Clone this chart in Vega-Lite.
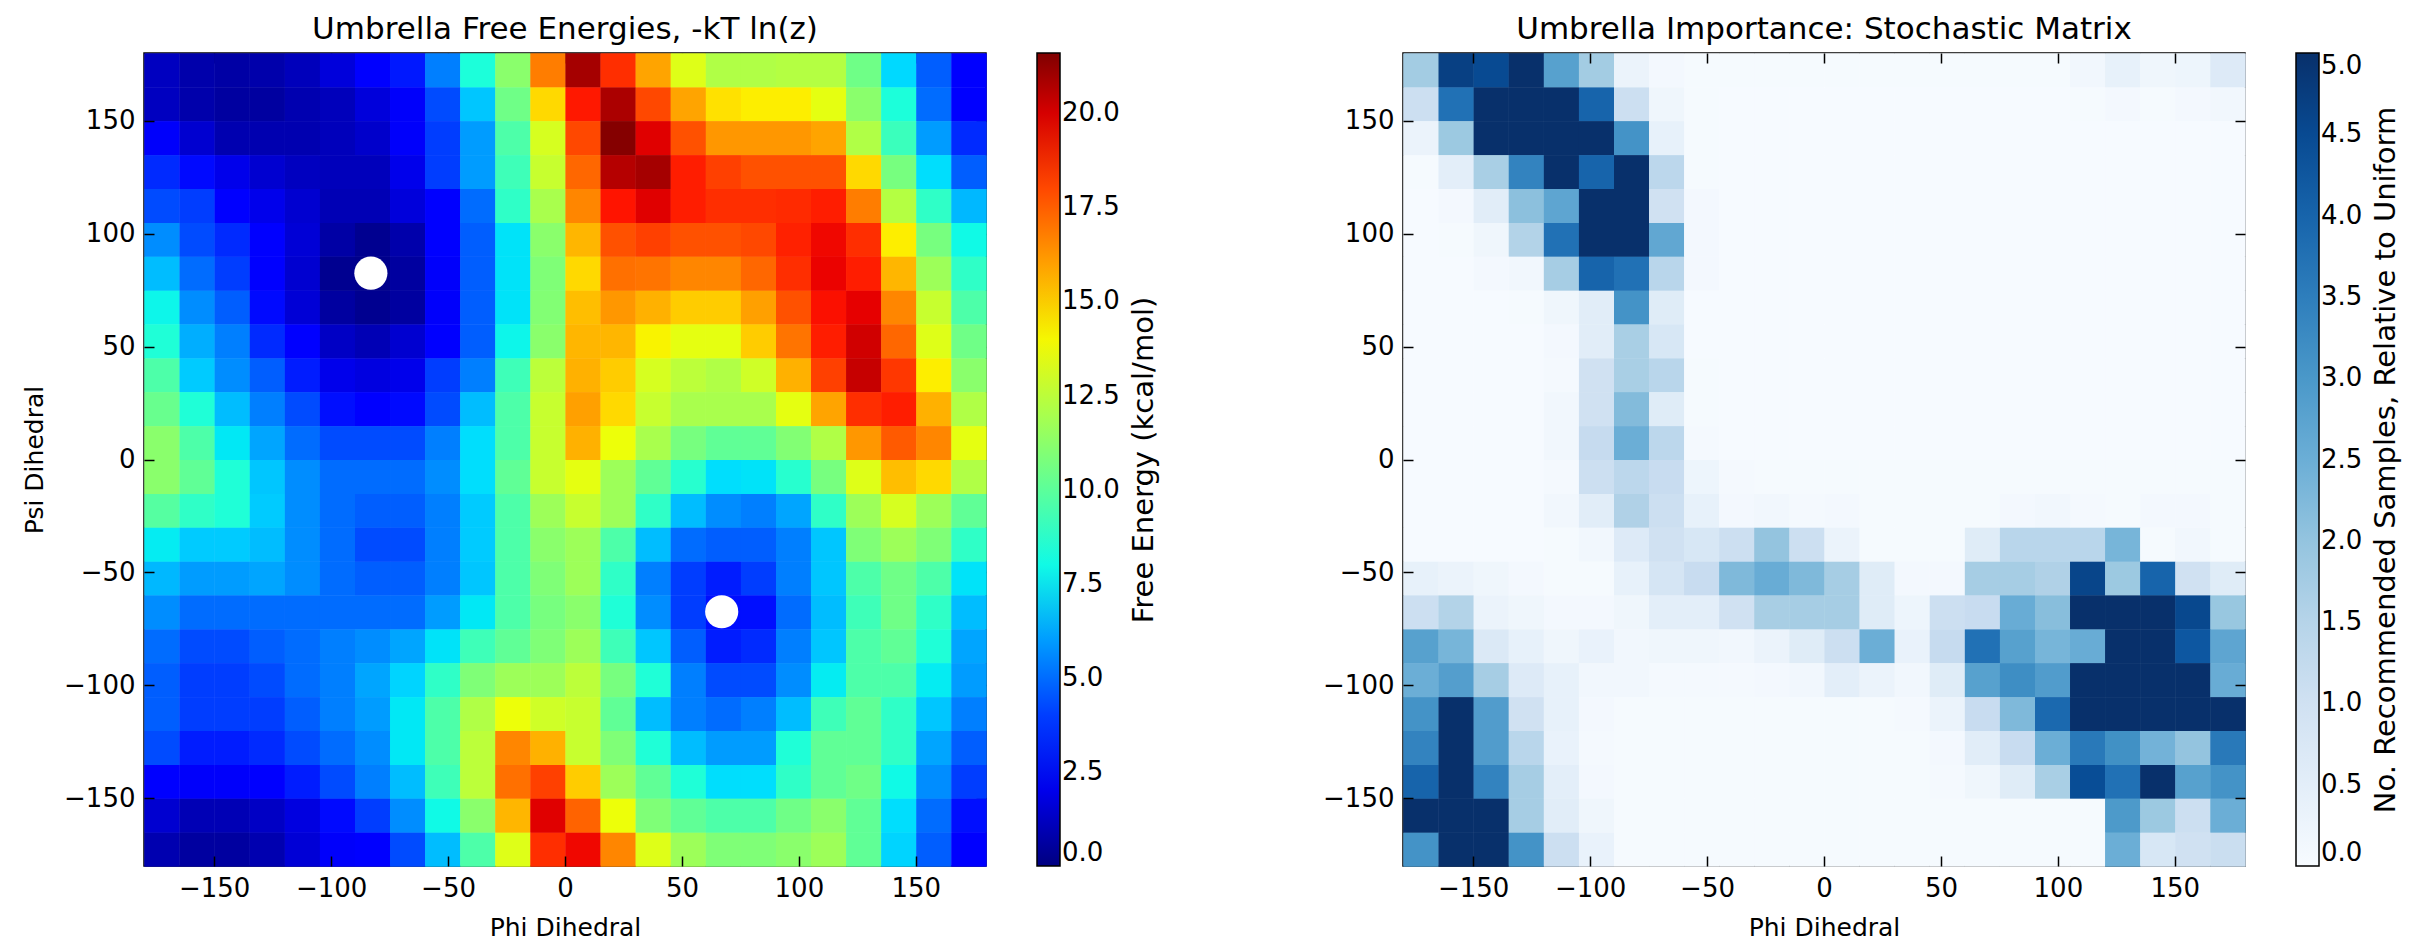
{
"$schema":"https://vega.github.io/schema/vega-lite/v6.json",
"background":"white",
"padding":{"left":21,"top":13,"right":5,"bottom":0},
"spacing":160,
"resolve":{"scale":{"color":"independent"},"legend":{"color":"independent"}},
"config":{
 "font":"DejaVu Sans",
 "view":{"stroke":"black","strokeWidth":1.5},
 "axis":{"domain":false,"grid":false,"tickColor":"black","tickSize":-10,"tickWidth":1.5,"labelFont":"DejaVu Sans","labelFontSize":26,"labelColor":"black","titleFont":"DejaVu Sans","titleFontSize":25,"titleFontWeight":"normal","titleColor":"black","labelPadding":19,"titlePadding":14},
 "axisY":{"titlePadding":16},
 "legend":{"labelFont":"DejaVu Sans","labelFontSize":26,"labelColor":"black","titleFont":"DejaVu Sans","titleFontSize":29,"titleFontWeight":"normal","titleColor":"black","titleLimit":2000,"gradientLength":813,"gradientThickness":23,"gradientStrokeColor":"black","gradientStrokeWidth":1.5,"labelOverlap":false,"offset":50,"titleOrient":"right","titleAnchor":"middle","titleAlign":"center","titlePadding":10,"labelOffset":8},
 "title":{"font":"DejaVu Sans","fontSize":31,"fontWeight":"normal","color":"black","offset":6,"anchor":"middle"}
},
"datasets":{
"dots":[{"phi":-83,"psi":82.5},{"phi":67,"psi":-67.4}],
"fe":[
{"phi":-180,"psi":165,"v":1.2},{"phi":-165,"psi":165,"v":0.8},{"phi":-150,"psi":165,"v":0.7},{"phi":-135,"psi":165,"v":0.8},{"phi":-120,"psi":165,"v":1.1},{"phi":-105,"psi":165,"v":1.7},{"phi":-90,"psi":165,"v":2.5},{"phi":-75,"psi":165,"v":3.2},{"phi":-60,"psi":165,"v":5.4},{"phi":-45,"psi":165,"v":8.3},{"phi":-30,"psi":165,"v":11.2},{"phi":-15,"psi":165,"v":16.8},{"phi":0,"psi":165,"v":20.9},{"phi":15,"psi":165,"v":18.6},{"phi":30,"psi":165,"v":15.9},{"phi":45,"psi":165,"v":13.4},{"phi":60,"psi":165,"v":12.2},{"phi":75,"psi":165,"v":12.2},{"phi":90,"psi":165,"v":12.3},{"phi":105,"psi":165,"v":12.3},{"phi":120,"psi":165,"v":10.5},{"phi":135,"psi":165,"v":7.3},{"phi":150,"psi":165,"v":4.7},{"phi":165,"psi":165,"v":2.5},
{"phi":-180,"psi":150,"v":1.2},{"phi":-165,"psi":150,"v":0.8},{"phi":-150,"psi":150,"v":0.6},{"phi":-135,"psi":150,"v":0.6},{"phi":-120,"psi":150,"v":0.9},{"phi":-105,"psi":150,"v":1.1},{"phi":-90,"psi":150,"v":1.7},{"phi":-75,"psi":150,"v":2.3},{"phi":-60,"psi":150,"v":4.3},{"phi":-45,"psi":150,"v":6.9},{"phi":-30,"psi":150,"v":10.5},{"phi":-15,"psi":150,"v":14.7},{"phi":0,"psi":150,"v":19.1},{"phi":15,"psi":150,"v":20.8},{"phi":30,"psi":150,"v":18.0},{"phi":45,"psi":150,"v":15.9},{"phi":60,"psi":150,"v":14.5},{"phi":75,"psi":150,"v":14.2},{"phi":90,"psi":150,"v":14.2},{"phi":105,"psi":150,"v":13.6},{"phi":120,"psi":150,"v":11.2},{"phi":135,"psi":150,"v":8.3},{"phi":150,"psi":150,"v":5.0},{"phi":165,"psi":150,"v":2.5},
{"phi":-180,"psi":135,"v":2.3},{"phi":-165,"psi":135,"v":1.5},{"phi":-150,"psi":135,"v":0.9},{"phi":-135,"psi":135,"v":0.9},{"phi":-120,"psi":135,"v":0.9},{"phi":-105,"psi":135,"v":1.1},{"phi":-90,"psi":135,"v":1.4},{"phi":-75,"psi":135,"v":2.3},{"phi":-60,"psi":135,"v":4.0},{"phi":-45,"psi":135,"v":6.0},{"phi":-30,"psi":135,"v":9.6},{"phi":-15,"psi":135,"v":13.2},{"phi":0,"psi":135,"v":18.0},{"phi":15,"psi":135,"v":21.5},{"phi":30,"psi":135,"v":19.8},{"phi":45,"psi":135,"v":17.8},{"phi":60,"psi":135,"v":16.2},{"phi":75,"psi":135,"v":16.2},{"phi":90,"psi":135,"v":16.2},{"phi":105,"psi":135,"v":15.9},{"phi":120,"psi":135,"v":12.2},{"phi":135,"psi":135,"v":9.1},{"phi":150,"psi":135,"v":6.0},{"phi":165,"psi":135,"v":3.6},
{"phi":-180,"psi":120,"v":3.6},{"phi":-165,"psi":120,"v":2.9},{"phi":-150,"psi":120,"v":2.0},{"phi":-135,"psi":120,"v":1.5},{"phi":-120,"psi":120,"v":1.2},{"phi":-105,"psi":120,"v":1.1},{"phi":-90,"psi":120,"v":1.1},{"phi":-75,"psi":120,"v":2.0},{"phi":-60,"psi":120,"v":4.0},{"phi":-45,"psi":120,"v":6.0},{"phi":-30,"psi":120,"v":9.2},{"phi":-15,"psi":120,"v":12.8},{"phi":0,"psi":120,"v":17.3},{"phi":15,"psi":120,"v":20.6},{"phi":30,"psi":120,"v":20.9},{"phi":45,"psi":120,"v":19.0},{"phi":60,"psi":120,"v":18.2},{"phi":75,"psi":120,"v":17.8},{"phi":90,"psi":120,"v":17.8},{"phi":105,"psi":120,"v":17.8},{"phi":120,"psi":120,"v":14.7},{"phi":135,"psi":120,"v":10.7},{"phi":150,"psi":120,"v":7.4},{"phi":165,"psi":120,"v":4.7},
{"phi":-180,"psi":105,"v":4.3},{"phi":-165,"psi":105,"v":4.0},{"phi":-150,"psi":105,"v":2.6},{"phi":-135,"psi":105,"v":2.0},{"phi":-120,"psi":105,"v":1.5},{"phi":-105,"psi":105,"v":1.0},{"phi":-90,"psi":105,"v":1.0},{"phi":-75,"psi":105,"v":1.7},{"phi":-60,"psi":105,"v":2.6},{"phi":-45,"psi":105,"v":5.0},{"phi":-30,"psi":105,"v":8.8},{"phi":-15,"psi":105,"v":12.0},{"phi":0,"psi":105,"v":16.6},{"phi":15,"psi":105,"v":19.2},{"phi":30,"psi":105,"v":19.8},{"phi":45,"psi":105,"v":19.0},{"phi":60,"psi":105,"v":18.6},{"phi":75,"psi":105,"v":18.6},{"phi":90,"psi":105,"v":18.7},{"phi":105,"psi":105,"v":19.0},{"phi":120,"psi":105,"v":16.8},{"phi":135,"psi":105,"v":12.3},{"phi":150,"psi":105,"v":8.8},{"phi":165,"psi":105,"v":6.6},
{"phi":-180,"psi":90,"v":5.7},{"phi":-165,"psi":90,"v":4.3},{"phi":-150,"psi":90,"v":3.6},{"phi":-135,"psi":90,"v":2.6},{"phi":-120,"psi":90,"v":1.6},{"phi":-105,"psi":90,"v":0.7},{"phi":-90,"psi":90,"v":0.3},{"phi":-75,"psi":90,"v":0.8},{"phi":-60,"psi":90,"v":2.6},{"phi":-45,"psi":90,"v":4.7},{"phi":-30,"psi":90,"v":7.5},{"phi":-15,"psi":90,"v":11.2},{"phi":0,"psi":90,"v":15.5},{"phi":15,"psi":90,"v":17.8},{"phi":30,"psi":90,"v":18.2},{"phi":45,"psi":90,"v":17.8},{"phi":60,"psi":90,"v":17.8},{"phi":75,"psi":90,"v":18.0},{"phi":90,"psi":90,"v":18.9},{"phi":105,"psi":90,"v":19.5},{"phi":120,"psi":90,"v":18.6},{"phi":135,"psi":90,"v":14.2},{"phi":150,"psi":90,"v":10.7},{"phi":165,"psi":90,"v":8.0},
{"phi":-180,"psi":75,"v":6.7},{"phi":-165,"psi":75,"v":5.0},{"phi":-150,"psi":75,"v":4.0},{"phi":-135,"psi":75,"v":2.6},{"phi":-120,"psi":75,"v":1.5},{"phi":-105,"psi":75,"v":0.3},{"phi":-90,"psi":75,"v":0.2},{"phi":-75,"psi":75,"v":0.6},{"phi":-60,"psi":75,"v":2.3},{"phi":-45,"psi":75,"v":4.7},{"phi":-30,"psi":75,"v":7.5},{"phi":-15,"psi":75,"v":10.9},{"phi":0,"psi":75,"v":14.7},{"phi":15,"psi":75,"v":17.1},{"phi":30,"psi":75,"v":17.0},{"phi":45,"psi":75,"v":16.6},{"phi":60,"psi":75,"v":16.6},{"phi":75,"psi":75,"v":17.3},{"phi":90,"psi":75,"v":18.6},{"phi":105,"psi":75,"v":19.6},{"phi":120,"psi":75,"v":19.0},{"phi":135,"psi":75,"v":15.5},{"phi":150,"psi":75,"v":11.7},{"phi":165,"psi":75,"v":8.8},
{"phi":-180,"psi":60,"v":7.9},{"phi":-165,"psi":60,"v":5.7},{"phi":-150,"psi":60,"v":4.7},{"phi":-135,"psi":60,"v":2.9},{"phi":-120,"psi":60,"v":1.6},{"phi":-105,"psi":60,"v":0.6},{"phi":-90,"psi":60,"v":0.3},{"phi":-75,"psi":60,"v":0.6},{"phi":-60,"psi":60,"v":2.3},{"phi":-45,"psi":60,"v":4.7},{"phi":-30,"psi":60,"v":7.5},{"phi":-15,"psi":60,"v":11.0},{"phi":0,"psi":60,"v":15.3},{"phi":15,"psi":60,"v":16.2},{"phi":30,"psi":60,"v":15.6},{"phi":45,"psi":60,"v":15.0},{"phi":60,"psi":60,"v":15.0},{"phi":75,"psi":60,"v":16.0},{"phi":90,"psi":60,"v":17.8},{"phi":105,"psi":60,"v":19.3},{"phi":120,"psi":60,"v":19.7},{"phi":135,"psi":60,"v":16.6},{"phi":150,"psi":60,"v":12.8},{"phi":165,"psi":60,"v":9.6},
{"phi":-180,"psi":45,"v":8.4},{"phi":-165,"psi":45,"v":6.4},{"phi":-150,"psi":45,"v":5.4},{"phi":-135,"psi":45,"v":3.6},{"phi":-120,"psi":45,"v":2.6},{"phi":-105,"psi":45,"v":1.3},{"phi":-90,"psi":45,"v":1.0},{"phi":-75,"psi":45,"v":1.5},{"phi":-60,"psi":45,"v":2.6},{"phi":-45,"psi":45,"v":4.7},{"phi":-30,"psi":45,"v":7.9},{"phi":-15,"psi":45,"v":11.2},{"phi":0,"psi":45,"v":15.5},{"phi":15,"psi":45,"v":15.5},{"phi":30,"psi":45,"v":14.1},{"phi":45,"psi":45,"v":13.6},{"phi":60,"psi":45,"v":13.6},{"phi":75,"psi":45,"v":15.0},{"phi":90,"psi":45,"v":17.0},{"phi":105,"psi":45,"v":19.0},{"phi":120,"psi":45,"v":20.1},{"phi":135,"psi":45,"v":17.3},{"phi":150,"psi":45,"v":13.4},{"phi":165,"psi":45,"v":10.5},
{"phi":-180,"psi":30,"v":9.6},{"phi":-165,"psi":30,"v":7.0},{"phi":-150,"psi":30,"v":5.7},{"phi":-135,"psi":30,"v":4.7},{"phi":-120,"psi":30,"v":3.3},{"phi":-105,"psi":30,"v":2.0},{"phi":-90,"psi":30,"v":1.8},{"phi":-75,"psi":30,"v":2.0},{"phi":-60,"psi":30,"v":4.0},{"phi":-45,"psi":30,"v":5.4},{"phi":-30,"psi":30,"v":9.2},{"phi":-15,"psi":30,"v":12.5},{"phi":0,"psi":30,"v":15.6},{"phi":15,"psi":30,"v":15.0},{"phi":30,"psi":30,"v":13.2},{"phi":45,"psi":30,"v":12.5},{"phi":60,"psi":30,"v":12.2},{"phi":75,"psi":30,"v":13.0},{"phi":90,"psi":30,"v":15.6},{"phi":105,"psi":30,"v":18.2},{"phi":120,"psi":30,"v":20.3},{"phi":135,"psi":30,"v":18.4},{"phi":150,"psi":30,"v":14.2},{"phi":165,"psi":30,"v":11.2},
{"phi":-180,"psi":15,"v":10.3},{"phi":-165,"psi":15,"v":8.4},{"phi":-150,"psi":15,"v":6.7},{"phi":-135,"psi":15,"v":5.4},{"phi":-120,"psi":15,"v":4.3},{"phi":-105,"psi":15,"v":3.0},{"phi":-90,"psi":15,"v":2.6},{"phi":-75,"psi":15,"v":2.9},{"phi":-60,"psi":15,"v":4.3},{"phi":-45,"psi":15,"v":6.7},{"phi":-30,"psi":15,"v":9.6},{"phi":-15,"psi":15,"v":12.8},{"phi":0,"psi":15,"v":16.0},{"phi":15,"psi":15,"v":14.7},{"phi":30,"psi":15,"v":12.8},{"phi":45,"psi":15,"v":12.0},{"phi":60,"psi":15,"v":12.0},{"phi":75,"psi":15,"v":12.0},{"phi":90,"psi":15,"v":13.6},{"phi":105,"psi":15,"v":15.9},{"phi":120,"psi":15,"v":18.6},{"phi":135,"psi":15,"v":19.0},{"phi":150,"psi":15,"v":15.6},{"phi":165,"psi":15,"v":12.2},
{"phi":-180,"psi":0,"v":11.2},{"phi":-165,"psi":0,"v":9.6},{"phi":-150,"psi":0,"v":7.6},{"phi":-135,"psi":0,"v":6.2},{"phi":-120,"psi":0,"v":5.0},{"phi":-105,"psi":0,"v":4.3},{"phi":-90,"psi":0,"v":4.3},{"phi":-75,"psi":0,"v":4.3},{"phi":-60,"psi":0,"v":5.4},{"phi":-45,"psi":0,"v":7.4},{"phi":-30,"psi":0,"v":9.6},{"phi":-15,"psi":0,"v":12.8},{"phi":0,"psi":0,"v":15.6},{"phi":15,"psi":0,"v":13.8},{"phi":30,"psi":0,"v":12.0},{"phi":45,"psi":0,"v":10.7},{"phi":60,"psi":0,"v":10.1},{"phi":75,"psi":0,"v":10.1},{"phi":90,"psi":0,"v":11.0},{"phi":105,"psi":0,"v":12.2},{"phi":120,"psi":0,"v":16.2},{"phi":135,"psi":0,"v":17.6},{"phi":150,"psi":0,"v":16.6},{"phi":165,"psi":0,"v":13.6},
{"phi":-180,"psi":-15,"v":11.2},{"phi":-165,"psi":-15,"v":10.1},{"phi":-150,"psi":-15,"v":8.4},{"phi":-135,"psi":-15,"v":6.9},{"phi":-120,"psi":-15,"v":5.7},{"phi":-105,"psi":-15,"v":5.0},{"phi":-90,"psi":-15,"v":5.0},{"phi":-75,"psi":-15,"v":5.0},{"phi":-60,"psi":-15,"v":5.7},{"phi":-45,"psi":-15,"v":7.4},{"phi":-30,"psi":-15,"v":10.1},{"phi":-15,"psi":-15,"v":12.8},{"phi":0,"psi":-15,"v":13.6},{"phi":15,"psi":-15,"v":11.7},{"phi":30,"psi":-15,"v":10.1},{"phi":45,"psi":-15,"v":8.6},{"phi":60,"psi":-15,"v":7.4},{"phi":75,"psi":-15,"v":7.5},{"phi":90,"psi":-15,"v":8.6},{"phi":105,"psi":-15,"v":10.7},{"phi":120,"psi":-15,"v":13.4},{"phi":135,"psi":-15,"v":15.3},{"phi":150,"psi":-15,"v":14.7},{"phi":165,"psi":-15,"v":12.2},
{"phi":-180,"psi":-30,"v":9.8},{"phi":-165,"psi":-30,"v":8.8},{"phi":-150,"psi":-30,"v":8.4},{"phi":-135,"psi":-30,"v":7.0},{"phi":-120,"psi":-30,"v":5.7},{"phi":-105,"psi":-30,"v":5.0},{"phi":-90,"psi":-30,"v":4.7},{"phi":-75,"psi":-30,"v":4.7},{"phi":-60,"psi":-30,"v":5.4},{"phi":-45,"psi":-30,"v":7.0},{"phi":-30,"psi":-30,"v":9.6},{"phi":-15,"psi":-30,"v":11.7},{"phi":0,"psi":-30,"v":12.8},{"phi":15,"psi":-30,"v":11.7},{"phi":30,"psi":-30,"v":8.8},{"phi":45,"psi":-30,"v":6.7},{"phi":60,"psi":-30,"v":5.7},{"phi":75,"psi":-30,"v":5.4},{"phi":90,"psi":-30,"v":6.2},{"phi":105,"psi":-30,"v":8.8},{"phi":120,"psi":-30,"v":11.7},{"phi":135,"psi":-30,"v":13.2},{"phi":150,"psi":-30,"v":11.7},{"phi":165,"psi":-30,"v":10.1},
{"phi":-180,"psi":-45,"v":7.7},{"phi":-165,"psi":-45,"v":7.0},{"phi":-150,"psi":-45,"v":7.0},{"phi":-135,"psi":-45,"v":6.7},{"phi":-120,"psi":-45,"v":5.7},{"phi":-105,"psi":-45,"v":5.0},{"phi":-90,"psi":-45,"v":4.3},{"phi":-75,"psi":-45,"v":4.3},{"phi":-60,"psi":-45,"v":5.4},{"phi":-45,"psi":-45,"v":7.0},{"phi":-30,"psi":-45,"v":9.6},{"phi":-15,"psi":-45,"v":11.2},{"phi":0,"psi":-45,"v":11.7},{"phi":15,"psi":-45,"v":9.6},{"phi":30,"psi":-45,"v":6.7},{"phi":45,"psi":-45,"v":5.0},{"phi":60,"psi":-45,"v":4.7},{"phi":75,"psi":-45,"v":4.7},{"phi":90,"psi":-45,"v":5.4},{"phi":105,"psi":-45,"v":6.9},{"phi":120,"psi":-45,"v":10.9},{"phi":135,"psi":-45,"v":11.7},{"phi":150,"psi":-45,"v":10.9},{"phi":165,"psi":-45,"v":8.8},
{"phi":-180,"psi":-60,"v":6.6},{"phi":-165,"psi":-60,"v":6.0},{"phi":-150,"psi":-60,"v":6.0},{"phi":-135,"psi":-60,"v":6.2},{"phi":-120,"psi":-60,"v":5.7},{"phi":-105,"psi":-60,"v":5.0},{"phi":-90,"psi":-60,"v":4.7},{"phi":-75,"psi":-60,"v":4.7},{"phi":-60,"psi":-60,"v":5.4},{"phi":-45,"psi":-60,"v":6.9},{"phi":-30,"psi":-60,"v":9.6},{"phi":-15,"psi":-60,"v":10.9},{"phi":0,"psi":-60,"v":11.7},{"phi":15,"psi":-60,"v":8.8},{"phi":30,"psi":-60,"v":5.4},{"phi":45,"psi":-60,"v":4.0},{"phi":60,"psi":-60,"v":3.3},{"phi":75,"psi":-60,"v":4.0},{"phi":90,"psi":-60,"v":5.4},{"phi":105,"psi":-60,"v":6.9},{"phi":120,"psi":-60,"v":9.6},{"phi":135,"psi":-60,"v":10.5},{"phi":150,"psi":-60,"v":9.6},{"phi":165,"psi":-60,"v":7.5},
{"phi":-180,"psi":-75,"v":5.7},{"phi":-165,"psi":-75,"v":5.0},{"phi":-150,"psi":-75,"v":5.0},{"phi":-135,"psi":-75,"v":5.0},{"phi":-120,"psi":-75,"v":5.0},{"phi":-105,"psi":-75,"v":5.0},{"phi":-90,"psi":-75,"v":5.0},{"phi":-75,"psi":-75,"v":5.0},{"phi":-60,"psi":-75,"v":6.0},{"phi":-45,"psi":-75,"v":7.6},{"phi":-30,"psi":-75,"v":9.6},{"phi":-15,"psi":-75,"v":10.7},{"phi":0,"psi":-75,"v":11.2},{"phi":15,"psi":-75,"v":8.4},{"phi":30,"psi":-75,"v":5.7},{"phi":45,"psi":-75,"v":4.0},{"phi":60,"psi":-75,"v":3.0},{"phi":75,"psi":-75,"v":3.0},{"phi":90,"psi":-75,"v":5.0},{"phi":105,"psi":-75,"v":6.7},{"phi":120,"psi":-75,"v":9.2},{"phi":135,"psi":-75,"v":10.5},{"phi":150,"psi":-75,"v":8.8},{"phi":165,"psi":-75,"v":6.7},
{"phi":-180,"psi":-90,"v":5.0},{"phi":-165,"psi":-90,"v":4.3},{"phi":-150,"psi":-90,"v":4.3},{"phi":-135,"psi":-90,"v":4.7},{"phi":-120,"psi":-90,"v":5.0},{"phi":-105,"psi":-90,"v":5.4},{"phi":-90,"psi":-90,"v":5.7},{"phi":-75,"psi":-90,"v":6.2},{"phi":-60,"psi":-90,"v":7.5},{"phi":-45,"psi":-90,"v":9.2},{"phi":-30,"psi":-90,"v":10.1},{"phi":-15,"psi":-90,"v":10.9},{"phi":0,"psi":-90,"v":11.7},{"phi":15,"psi":-90,"v":9.2},{"phi":30,"psi":-90,"v":6.9},{"phi":45,"psi":-90,"v":4.7},{"phi":60,"psi":-90,"v":3.3},{"phi":75,"psi":-90,"v":3.6},{"phi":90,"psi":-90,"v":5.4},{"phi":105,"psi":-90,"v":6.9},{"phi":120,"psi":-90,"v":9.6},{"phi":135,"psi":-90,"v":10.1},{"phi":150,"psi":-90,"v":8.4},{"phi":165,"psi":-90,"v":6.2},
{"phi":-180,"psi":-105,"v":4.7},{"phi":-165,"psi":-105,"v":4.0},{"phi":-150,"psi":-105,"v":4.0},{"phi":-135,"psi":-105,"v":4.3},{"phi":-120,"psi":-105,"v":5.0},{"phi":-105,"psi":-105,"v":5.4},{"phi":-90,"psi":-105,"v":6.2},{"phi":-75,"psi":-105,"v":7.2},{"phi":-60,"psi":-105,"v":8.8},{"phi":-45,"psi":-105,"v":10.9},{"phi":-30,"psi":-105,"v":11.7},{"phi":-15,"psi":-105,"v":11.7},{"phi":0,"psi":-105,"v":12.5},{"phi":15,"psi":-105,"v":10.7},{"phi":30,"psi":-105,"v":8.4},{"phi":45,"psi":-105,"v":5.4},{"phi":60,"psi":-105,"v":4.3},{"phi":75,"psi":-105,"v":4.3},{"phi":90,"psi":-105,"v":5.7},{"phi":105,"psi":-105,"v":7.7},{"phi":120,"psi":-105,"v":9.6},{"phi":135,"psi":-105,"v":9.6},{"phi":150,"psi":-105,"v":7.7},{"phi":165,"psi":-105,"v":6.0},
{"phi":-180,"psi":-120,"v":4.7},{"phi":-165,"psi":-120,"v":4.0},{"phi":-150,"psi":-120,"v":4.0},{"phi":-135,"psi":-120,"v":4.0},{"phi":-120,"psi":-120,"v":4.7},{"phi":-105,"psi":-120,"v":5.4},{"phi":-90,"psi":-120,"v":6.0},{"phi":-75,"psi":-120,"v":7.6},{"phi":-60,"psi":-120,"v":9.6},{"phi":-45,"psi":-120,"v":12.2},{"phi":-30,"psi":-120,"v":13.8},{"phi":-15,"psi":-120,"v":13.0},{"phi":0,"psi":-120,"v":12.8},{"phi":15,"psi":-120,"v":10.1},{"phi":30,"psi":-120,"v":6.7},{"phi":45,"psi":-120,"v":5.4},{"phi":60,"psi":-120,"v":5.0},{"phi":75,"psi":-120,"v":5.4},{"phi":90,"psi":-120,"v":6.7},{"phi":105,"psi":-120,"v":9.2},{"phi":120,"psi":-120,"v":10.1},{"phi":135,"psi":-120,"v":8.8},{"phi":150,"psi":-120,"v":6.9},{"phi":165,"psi":-120,"v":5.4},
{"phi":-180,"psi":-135,"v":4.3},{"phi":-165,"psi":-135,"v":3.3},{"phi":-150,"psi":-135,"v":3.3},{"phi":-135,"psi":-135,"v":3.6},{"phi":-120,"psi":-135,"v":4.3},{"phi":-105,"psi":-135,"v":5.0},{"phi":-90,"psi":-135,"v":5.7},{"phi":-75,"psi":-135,"v":7.6},{"phi":-60,"psi":-135,"v":9.6},{"phi":-45,"psi":-135,"v":12.5},{"phi":-30,"psi":-135,"v":16.6},{"phi":-15,"psi":-135,"v":15.6},{"phi":0,"psi":-135,"v":12.8},{"phi":15,"psi":-135,"v":10.9},{"phi":30,"psi":-135,"v":8.4},{"phi":45,"psi":-135,"v":6.7},{"phi":60,"psi":-135,"v":6.0},{"phi":75,"psi":-135,"v":6.0},{"phi":90,"psi":-135,"v":8.4},{"phi":105,"psi":-135,"v":10.1},{"phi":120,"psi":-135,"v":10.1},{"phi":135,"psi":-135,"v":8.8},{"phi":150,"psi":-135,"v":6.2},{"phi":165,"psi":-135,"v":4.7},
{"phi":-180,"psi":-150,"v":2.6},{"phi":-165,"psi":-150,"v":2.3},{"phi":-150,"psi":-150,"v":2.3},{"phi":-135,"psi":-150,"v":2.6},{"phi":-120,"psi":-150,"v":3.3},{"phi":-105,"psi":-150,"v":4.3},{"phi":-90,"psi":-150,"v":5.4},{"phi":-75,"psi":-150,"v":6.7},{"phi":-60,"psi":-150,"v":9.2},{"phi":-45,"psi":-150,"v":12.5},{"phi":-30,"psi":-150,"v":17.1},{"phi":-15,"psi":-150,"v":18.2},{"phi":0,"psi":-150,"v":15.0},{"phi":15,"psi":-150,"v":11.7},{"phi":30,"psi":-150,"v":10.1},{"phi":45,"psi":-150,"v":8.4},{"phi":60,"psi":-150,"v":7.4},{"phi":75,"psi":-150,"v":7.4},{"phi":90,"psi":-150,"v":8.8},{"phi":105,"psi":-150,"v":10.1},{"phi":120,"psi":-150,"v":10.5},{"phi":135,"psi":-150,"v":8.0},{"phi":150,"psi":-150,"v":5.7},{"phi":165,"psi":-150,"v":4.0},
{"phi":-180,"psi":-165,"v":1.5},{"phi":-165,"psi":-165,"v":1.0},{"phi":-150,"psi":-165,"v":1.0},{"phi":-135,"psi":-165,"v":1.3},{"phi":-120,"psi":-165,"v":1.8},{"phi":-105,"psi":-165,"v":2.9},{"phi":-90,"psi":-165,"v":4.0},{"phi":-75,"psi":-165,"v":5.7},{"phi":-60,"psi":-165,"v":8.0},{"phi":-45,"psi":-165,"v":11.2},{"phi":-30,"psi":-165,"v":15.5},{"phi":-15,"psi":-165,"v":19.8},{"phi":0,"psi":-165,"v":17.4},{"phi":15,"psi":-165,"v":13.8},{"phi":30,"psi":-165,"v":10.9},{"phi":45,"psi":-165,"v":10.1},{"phi":60,"psi":-165,"v":9.6},{"phi":75,"psi":-165,"v":9.6},{"phi":90,"psi":-165,"v":10.5},{"phi":105,"psi":-165,"v":11.2},{"phi":120,"psi":-165,"v":10.1},{"phi":135,"psi":-165,"v":7.4},{"phi":150,"psi":-165,"v":5.0},{"phi":165,"psi":-165,"v":3.0},
{"phi":-180,"psi":-180,"v":0.9},{"phi":-165,"psi":-180,"v":0.6},{"phi":-150,"psi":-180,"v":0.6},{"phi":-135,"psi":-180,"v":0.9},{"phi":-120,"psi":-180,"v":1.6},{"phi":-105,"psi":-180,"v":2.3},{"phi":-90,"psi":-180,"v":2.6},{"phi":-75,"psi":-180,"v":4.3},{"phi":-60,"psi":-180,"v":6.7},{"phi":-45,"psi":-180,"v":9.6},{"phi":-30,"psi":-180,"v":13.4},{"phi":-15,"psi":-180,"v":18.6},{"phi":0,"psi":-180,"v":19.5},{"phi":15,"psi":-180,"v":16.6},{"phi":30,"psi":-180,"v":13.4},{"phi":45,"psi":-180,"v":11.7},{"phi":60,"psi":-180,"v":10.9},{"phi":75,"psi":-180,"v":10.9},{"phi":90,"psi":-180,"v":11.2},{"phi":105,"psi":-180,"v":11.7},{"phi":120,"psi":-180,"v":10.1},{"phi":135,"psi":-180,"v":7.2},{"phi":150,"psi":-180,"v":4.7},{"phi":165,"psi":-180,"v":2.6}
],
"imp":[
{"phi":-180,"psi":165,"v":1.8},{"phi":-165,"psi":165,"v":4.7},{"phi":-150,"psi":165,"v":4.5},{"phi":-135,"psi":165,"v":5},{"phi":-120,"psi":165,"v":2.8},{"phi":-105,"psi":165,"v":1.8},{"phi":-90,"psi":165,"v":0.3},{"phi":-75,"psi":165,"v":0.1},{"phi":-60,"psi":165,"v":0.05},{"phi":-45,"psi":165,"v":0.04},{"phi":-30,"psi":165,"v":0.04},{"phi":-15,"psi":165,"v":0.04},{"phi":0,"psi":165,"v":0.04},{"phi":15,"psi":165,"v":0.04},{"phi":30,"psi":165,"v":0.04},{"phi":45,"psi":165,"v":0.04},{"phi":60,"psi":165,"v":0.04},{"phi":75,"psi":165,"v":0.05},{"phi":90,"psi":165,"v":0.05},{"phi":105,"psi":165,"v":0.15},{"phi":120,"psi":165,"v":0.4},{"phi":135,"psi":165,"v":0.2},{"phi":150,"psi":165,"v":0.25},{"phi":165,"psi":165,"v":0.65},
{"phi":-180,"psi":150,"v":1.1},{"phi":-165,"psi":150,"v":3.75},{"phi":-150,"psi":150,"v":5},{"phi":-135,"psi":150,"v":5},{"phi":-120,"psi":150,"v":5},{"phi":-105,"psi":150,"v":4.0},{"phi":-90,"psi":150,"v":1.1},{"phi":-75,"psi":150,"v":0.2},{"phi":-60,"psi":150,"v":0.05},{"phi":-45,"psi":150,"v":0.03},{"phi":-30,"psi":150,"v":0.03},{"phi":-15,"psi":150,"v":0.03},{"phi":0,"psi":150,"v":0.03},{"phi":15,"psi":150,"v":0.03},{"phi":30,"psi":150,"v":0.03},{"phi":45,"psi":150,"v":0.03},{"phi":60,"psi":150,"v":0.03},{"phi":75,"psi":150,"v":0.03},{"phi":90,"psi":150,"v":0.03},{"phi":105,"psi":150,"v":0.05},{"phi":120,"psi":150,"v":0.1},{"phi":135,"psi":150,"v":0.05},{"phi":150,"psi":150,"v":0.1},{"phi":165,"psi":150,"v":0.15},
{"phi":-180,"psi":135,"v":0.3},{"phi":-165,"psi":135,"v":1.9},{"phi":-150,"psi":135,"v":5},{"phi":-135,"psi":135,"v":5},{"phi":-120,"psi":135,"v":5},{"phi":-105,"psi":135,"v":5},{"phi":-90,"psi":135,"v":3.1},{"phi":-75,"psi":135,"v":0.4},{"phi":-60,"psi":135,"v":0.05},{"phi":-45,"psi":135,"v":0.03},{"phi":-30,"psi":135,"v":0.03},{"phi":-15,"psi":135,"v":0.03},{"phi":0,"psi":135,"v":0.03},{"phi":15,"psi":135,"v":0.03},{"phi":30,"psi":135,"v":0.03},{"phi":45,"psi":135,"v":0.03},{"phi":60,"psi":135,"v":0.03},{"phi":75,"psi":135,"v":0.03},{"phi":90,"psi":135,"v":0.03},{"phi":105,"psi":135,"v":0.03},{"phi":120,"psi":135,"v":0.03},{"phi":135,"psi":135,"v":0.03},{"phi":150,"psi":135,"v":0.03},{"phi":165,"psi":135,"v":0.03},
{"phi":-180,"psi":120,"v":0.05},{"phi":-165,"psi":120,"v":0.5},{"phi":-150,"psi":120,"v":1.7},{"phi":-135,"psi":120,"v":3.4},{"phi":-120,"psi":120,"v":5},{"phi":-105,"psi":120,"v":4.0},{"phi":-90,"psi":120,"v":5},{"phi":-75,"psi":120,"v":1.4},{"phi":-60,"psi":120,"v":0.05},{"phi":-45,"psi":120,"v":0.03},{"phi":-30,"psi":120,"v":0.03},{"phi":-15,"psi":120,"v":0.03},{"phi":0,"psi":120,"v":0.03},{"phi":15,"psi":120,"v":0.03},{"phi":30,"psi":120,"v":0.03},{"phi":45,"psi":120,"v":0.03},{"phi":60,"psi":120,"v":0.03},{"phi":75,"psi":120,"v":0.03},{"phi":90,"psi":120,"v":0.03},{"phi":105,"psi":120,"v":0.03},{"phi":120,"psi":120,"v":0.03},{"phi":135,"psi":120,"v":0.03},{"phi":150,"psi":120,"v":0.03},{"phi":165,"psi":120,"v":0.03},
{"phi":-180,"psi":105,"v":0.03},{"phi":-165,"psi":105,"v":0.1},{"phi":-150,"psi":105,"v":0.55},{"phi":-135,"psi":105,"v":2.1},{"phi":-120,"psi":105,"v":2.7},{"phi":-105,"psi":105,"v":5},{"phi":-90,"psi":105,"v":5},{"phi":-75,"psi":105,"v":1.0},{"phi":-60,"psi":105,"v":0.1},{"phi":-45,"psi":105,"v":0.03},{"phi":-30,"psi":105,"v":0.03},{"phi":-15,"psi":105,"v":0.03},{"phi":0,"psi":105,"v":0.03},{"phi":15,"psi":105,"v":0.03},{"phi":30,"psi":105,"v":0.03},{"phi":45,"psi":105,"v":0.03},{"phi":60,"psi":105,"v":0.03},{"phi":75,"psi":105,"v":0.03},{"phi":90,"psi":105,"v":0.03},{"phi":105,"psi":105,"v":0.03},{"phi":120,"psi":105,"v":0.03},{"phi":135,"psi":105,"v":0.03},{"phi":150,"psi":105,"v":0.03},{"phi":165,"psi":105,"v":0.03},
{"phi":-180,"psi":90,"v":0.03},{"phi":-165,"psi":90,"v":0.05},{"phi":-150,"psi":90,"v":0.2},{"phi":-135,"psi":90,"v":1.55},{"phi":-120,"psi":90,"v":3.75},{"phi":-105,"psi":90,"v":5},{"phi":-90,"psi":90,"v":5},{"phi":-75,"psi":90,"v":2.65},{"phi":-60,"psi":90,"v":0.1},{"phi":-45,"psi":90,"v":0.03},{"phi":-30,"psi":90,"v":0.03},{"phi":-15,"psi":90,"v":0.03},{"phi":0,"psi":90,"v":0.03},{"phi":15,"psi":90,"v":0.03},{"phi":30,"psi":90,"v":0.03},{"phi":45,"psi":90,"v":0.03},{"phi":60,"psi":90,"v":0.03},{"phi":75,"psi":90,"v":0.03},{"phi":90,"psi":90,"v":0.03},{"phi":105,"psi":90,"v":0.03},{"phi":120,"psi":90,"v":0.03},{"phi":135,"psi":90,"v":0.03},{"phi":150,"psi":90,"v":0.03},{"phi":165,"psi":90,"v":0.03},
{"phi":-180,"psi":75,"v":0.02},{"phi":-165,"psi":75,"v":0.02},{"phi":-150,"psi":75,"v":0.1},{"phi":-135,"psi":75,"v":0.15},{"phi":-120,"psi":75,"v":1.75},{"phi":-105,"psi":75,"v":4.0},{"phi":-90,"psi":75,"v":3.75},{"phi":-75,"psi":75,"v":1.45},{"phi":-60,"psi":75,"v":0.1},{"phi":-45,"psi":75,"v":0.03},{"phi":-30,"psi":75,"v":0.03},{"phi":-15,"psi":75,"v":0.03},{"phi":0,"psi":75,"v":0.03},{"phi":15,"psi":75,"v":0.03},{"phi":30,"psi":75,"v":0.03},{"phi":45,"psi":75,"v":0.03},{"phi":60,"psi":75,"v":0.03},{"phi":75,"psi":75,"v":0.03},{"phi":90,"psi":75,"v":0.03},{"phi":105,"psi":75,"v":0.03},{"phi":120,"psi":75,"v":0.03},{"phi":135,"psi":75,"v":0.03},{"phi":150,"psi":75,"v":0.03},{"phi":165,"psi":75,"v":0.03},
{"phi":-180,"psi":60,"v":0.02},{"phi":-165,"psi":60,"v":0.02},{"phi":-150,"psi":60,"v":0.02},{"phi":-135,"psi":60,"v":0.05},{"phi":-120,"psi":60,"v":0.2},{"phi":-105,"psi":60,"v":0.55},{"phi":-90,"psi":60,"v":3.1},{"phi":-75,"psi":60,"v":0.6},{"phi":-60,"psi":60,"v":0.03},{"phi":-45,"psi":60,"v":0.03},{"phi":-30,"psi":60,"v":0.03},{"phi":-15,"psi":60,"v":0.03},{"phi":0,"psi":60,"v":0.03},{"phi":15,"psi":60,"v":0.03},{"phi":30,"psi":60,"v":0.03},{"phi":45,"psi":60,"v":0.03},{"phi":60,"psi":60,"v":0.03},{"phi":75,"psi":60,"v":0.03},{"phi":90,"psi":60,"v":0.03},{"phi":105,"psi":60,"v":0.03},{"phi":120,"psi":60,"v":0.03},{"phi":135,"psi":60,"v":0.03},{"phi":150,"psi":60,"v":0.03},{"phi":165,"psi":60,"v":0.03},
{"phi":-180,"psi":45,"v":0.02},{"phi":-165,"psi":45,"v":0.02},{"phi":-150,"psi":45,"v":0.02},{"phi":-135,"psi":45,"v":0.03},{"phi":-120,"psi":45,"v":0.1},{"phi":-105,"psi":45,"v":0.55},{"phi":-90,"psi":45,"v":1.7},{"phi":-75,"psi":45,"v":0.8},{"phi":-60,"psi":45,"v":0.03},{"phi":-45,"psi":45,"v":0.03},{"phi":-30,"psi":45,"v":0.03},{"phi":-15,"psi":45,"v":0.03},{"phi":0,"psi":45,"v":0.03},{"phi":15,"psi":45,"v":0.03},{"phi":30,"psi":45,"v":0.03},{"phi":45,"psi":45,"v":0.03},{"phi":60,"psi":45,"v":0.03},{"phi":75,"psi":45,"v":0.03},{"phi":90,"psi":45,"v":0.03},{"phi":105,"psi":45,"v":0.03},{"phi":120,"psi":45,"v":0.03},{"phi":135,"psi":45,"v":0.03},{"phi":150,"psi":45,"v":0.03},{"phi":165,"psi":45,"v":0.03},
{"phi":-180,"psi":30,"v":0.02},{"phi":-165,"psi":30,"v":0.02},{"phi":-150,"psi":30,"v":0.02},{"phi":-135,"psi":30,"v":0.02},{"phi":-120,"psi":30,"v":0.08},{"phi":-105,"psi":30,"v":1.0},{"phi":-90,"psi":30,"v":1.7},{"phi":-75,"psi":30,"v":1.45},{"phi":-60,"psi":30,"v":0.05},{"phi":-45,"psi":30,"v":0.03},{"phi":-30,"psi":30,"v":0.03},{"phi":-15,"psi":30,"v":0.03},{"phi":0,"psi":30,"v":0.03},{"phi":15,"psi":30,"v":0.03},{"phi":30,"psi":30,"v":0.03},{"phi":45,"psi":30,"v":0.03},{"phi":60,"psi":30,"v":0.03},{"phi":75,"psi":30,"v":0.03},{"phi":90,"psi":30,"v":0.03},{"phi":105,"psi":30,"v":0.03},{"phi":120,"psi":30,"v":0.03},{"phi":135,"psi":30,"v":0.03},{"phi":150,"psi":30,"v":0.03},{"phi":165,"psi":30,"v":0.03},
{"phi":-180,"psi":15,"v":0.02},{"phi":-165,"psi":15,"v":0.02},{"phi":-150,"psi":15,"v":0.02},{"phi":-135,"psi":15,"v":0.02},{"phi":-120,"psi":15,"v":0.15},{"phi":-105,"psi":15,"v":1.0},{"phi":-90,"psi":15,"v":2.2},{"phi":-75,"psi":15,"v":0.6},{"phi":-60,"psi":15,"v":0.05},{"phi":-45,"psi":15,"v":0.03},{"phi":-30,"psi":15,"v":0.03},{"phi":-15,"psi":15,"v":0.03},{"phi":0,"psi":15,"v":0.03},{"phi":15,"psi":15,"v":0.03},{"phi":30,"psi":15,"v":0.03},{"phi":45,"psi":15,"v":0.03},{"phi":60,"psi":15,"v":0.03},{"phi":75,"psi":15,"v":0.03},{"phi":90,"psi":15,"v":0.03},{"phi":105,"psi":15,"v":0.03},{"phi":120,"psi":15,"v":0.03},{"phi":135,"psi":15,"v":0.03},{"phi":150,"psi":15,"v":0.03},{"phi":165,"psi":15,"v":0.03},
{"phi":-180,"psi":0,"v":0.02},{"phi":-165,"psi":0,"v":0.02},{"phi":-150,"psi":0,"v":0.02},{"phi":-135,"psi":0,"v":0.02},{"phi":-120,"psi":0,"v":0.15},{"phi":-105,"psi":0,"v":1.25},{"phi":-90,"psi":0,"v":2.5},{"phi":-75,"psi":0,"v":1.4},{"phi":-60,"psi":0,"v":0.08},{"phi":-45,"psi":0,"v":0.03},{"phi":-30,"psi":0,"v":0.03},{"phi":-15,"psi":0,"v":0.03},{"phi":0,"psi":0,"v":0.03},{"phi":15,"psi":0,"v":0.03},{"phi":30,"psi":0,"v":0.03},{"phi":45,"psi":0,"v":0.03},{"phi":60,"psi":0,"v":0.03},{"phi":75,"psi":0,"v":0.03},{"phi":90,"psi":0,"v":0.03},{"phi":105,"psi":0,"v":0.03},{"phi":120,"psi":0,"v":0.03},{"phi":135,"psi":0,"v":0.03},{"phi":150,"psi":0,"v":0.03},{"phi":165,"psi":0,"v":0.03},
{"phi":-180,"psi":-15,"v":0.02},{"phi":-165,"psi":-15,"v":0.02},{"phi":-150,"psi":-15,"v":0.02},{"phi":-135,"psi":-15,"v":0.02},{"phi":-120,"psi":-15,"v":0.08},{"phi":-105,"psi":-15,"v":1.1},{"phi":-90,"psi":-15,"v":1.4},{"phi":-75,"psi":-15,"v":1.2},{"phi":-60,"psi":-15,"v":0.25},{"phi":-45,"psi":-15,"v":0.08},{"phi":-30,"psi":-15,"v":0.05},{"phi":-15,"psi":-15,"v":0.04},{"phi":0,"psi":-15,"v":0.04},{"phi":15,"psi":-15,"v":0.04},{"phi":30,"psi":-15,"v":0.04},{"phi":45,"psi":-15,"v":0.04},{"phi":60,"psi":-15,"v":0.04},{"phi":75,"psi":-15,"v":0.04},{"phi":90,"psi":-15,"v":0.04},{"phi":105,"psi":-15,"v":0.04},{"phi":120,"psi":-15,"v":0.04},{"phi":135,"psi":-15,"v":0.04},{"phi":150,"psi":-15,"v":0.04},{"phi":165,"psi":-15,"v":0.04},
{"phi":-180,"psi":-30,"v":0.03},{"phi":-165,"psi":-30,"v":0.03},{"phi":-150,"psi":-30,"v":0.03},{"phi":-135,"psi":-30,"v":0.03},{"phi":-120,"psi":-30,"v":0.15},{"phi":-105,"psi":-30,"v":0.55},{"phi":-90,"psi":-30,"v":1.6},{"phi":-75,"psi":-30,"v":1.1},{"phi":-60,"psi":-30,"v":0.4},{"phi":-45,"psi":-30,"v":0.1},{"phi":-30,"psi":-30,"v":0.15},{"phi":-15,"psi":-30,"v":0.08},{"phi":0,"psi":-30,"v":0.1},{"phi":15,"psi":-30,"v":0.05},{"phi":30,"psi":-30,"v":0.05},{"phi":45,"psi":-30,"v":0.05},{"phi":60,"psi":-30,"v":0.05},{"phi":75,"psi":-30,"v":0.1},{"phi":90,"psi":-30,"v":0.15},{"phi":105,"psi":-30,"v":0.08},{"phi":120,"psi":-30,"v":0.05},{"phi":135,"psi":-30,"v":0.1},{"phi":150,"psi":-30,"v":0.1},{"phi":165,"psi":-30,"v":0.05},
{"phi":-180,"psi":-45,"v":0.03},{"phi":-165,"psi":-45,"v":0.03},{"phi":-150,"psi":-45,"v":0.03},{"phi":-135,"psi":-45,"v":0.03},{"phi":-120,"psi":-45,"v":0.05},{"phi":-105,"psi":-45,"v":0.15},{"phi":-90,"psi":-45,"v":0.65},{"phi":-75,"psi":-45,"v":1.0},{"phi":-60,"psi":-45,"v":0.8},{"phi":-45,"psi":-45,"v":1.1},{"phi":-30,"psi":-45,"v":2.0},{"phi":-15,"psi":-45,"v":1.1},{"phi":0,"psi":-45,"v":0.3},{"phi":15,"psi":-45,"v":0.05},{"phi":30,"psi":-45,"v":0.05},{"phi":45,"psi":-45,"v":0.05},{"phi":60,"psi":-45,"v":0.6},{"phi":75,"psi":-45,"v":1.45},{"phi":90,"psi":-45,"v":1.45},{"phi":105,"psi":-45,"v":1.45},{"phi":120,"psi":-45,"v":2.35},{"phi":135,"psi":-45,"v":0.05},{"phi":150,"psi":-45,"v":0.15},{"phi":165,"psi":-45,"v":0.05},
{"phi":-180,"psi":-60,"v":0.4},{"phi":-165,"psi":-60,"v":0.3},{"phi":-150,"psi":-60,"v":0.2},{"phi":-135,"psi":-60,"v":0.1},{"phi":-120,"psi":-60,"v":0.05},{"phi":-105,"psi":-60,"v":0.05},{"phi":-90,"psi":-60,"v":0.4},{"phi":-75,"psi":-60,"v":0.85},{"phi":-60,"psi":-60,"v":1.2},{"phi":-45,"psi":-60,"v":2.25},{"phi":-30,"psi":-60,"v":2.55},{"phi":-15,"psi":-60,"v":2.25},{"phi":0,"psi":-60,"v":1.75},{"phi":15,"psi":-60,"v":0.6},{"phi":30,"psi":-60,"v":0.1},{"phi":45,"psi":-60,"v":0.1},{"phi":60,"psi":-60,"v":1.75},{"phi":75,"psi":-60,"v":1.75},{"phi":90,"psi":-60,"v":1.6},{"phi":105,"psi":-60,"v":4.6},{"phi":120,"psi":-60,"v":1.9},{"phi":135,"psi":-60,"v":4.0},{"phi":150,"psi":-60,"v":1.0},{"phi":165,"psi":-60,"v":0.6},
{"phi":-180,"psi":-75,"v":1.1},{"phi":-165,"psi":-75,"v":1.55},{"phi":-150,"psi":-75,"v":0.3},{"phi":-135,"psi":-75,"v":0.2},{"phi":-120,"psi":-75,"v":0.1},{"phi":-105,"psi":-75,"v":0.1},{"phi":-90,"psi":-75,"v":0.2},{"phi":-75,"psi":-75,"v":0.5},{"phi":-60,"psi":-75,"v":0.5},{"phi":-45,"psi":-75,"v":1.0},{"phi":-30,"psi":-75,"v":1.72},{"phi":-15,"psi":-75,"v":1.75},{"phi":0,"psi":-75,"v":1.75},{"phi":15,"psi":-75,"v":0.6},{"phi":30,"psi":-75,"v":0.25},{"phi":45,"psi":-75,"v":1.1},{"phi":60,"psi":-75,"v":1.2},{"phi":75,"psi":-75,"v":2.55},{"phi":90,"psi":-75,"v":2.15},{"phi":105,"psi":-75,"v":5},{"phi":120,"psi":-75,"v":5},{"phi":135,"psi":-75,"v":5},{"phi":150,"psi":-75,"v":4.55},{"phi":165,"psi":-75,"v":1.95},
{"phi":-180,"psi":-90,"v":2.8},{"phi":-165,"psi":-90,"v":2.35},{"phi":-150,"psi":-90,"v":0.7},{"phi":-135,"psi":-90,"v":0.4},{"phi":-120,"psi":-90,"v":0.2},{"phi":-105,"psi":-90,"v":0.35},{"phi":-90,"psi":-90,"v":0.15},{"phi":-75,"psi":-90,"v":0.2},{"phi":-60,"psi":-90,"v":0.2},{"phi":-45,"psi":-90,"v":0.15},{"phi":-30,"psi":-90,"v":0.3},{"phi":-15,"psi":-90,"v":0.6},{"phi":0,"psi":-90,"v":1.1},{"phi":15,"psi":-90,"v":2.5},{"phi":30,"psi":-90,"v":0.35},{"phi":45,"psi":-90,"v":1.25},{"phi":60,"psi":-90,"v":3.75},{"phi":75,"psi":-90,"v":2.8},{"phi":90,"psi":-90,"v":2.35},{"phi":105,"psi":-90,"v":2.55},{"phi":120,"psi":-90,"v":5},{"phi":135,"psi":-90,"v":5},{"phi":150,"psi":-90,"v":4.25},{"phi":165,"psi":-90,"v":2.7},
{"phi":-180,"psi":-105,"v":2.5},{"phi":-165,"psi":-105,"v":2.85},{"phi":-150,"psi":-105,"v":1.75},{"phi":-135,"psi":-105,"v":0.65},{"phi":-120,"psi":-105,"v":0.4},{"phi":-105,"psi":-105,"v":0.15},{"phi":-90,"psi":-105,"v":0.15},{"phi":-75,"psi":-105,"v":0.08},{"phi":-60,"psi":-105,"v":0.08},{"phi":-45,"psi":-105,"v":0.08},{"phi":-30,"psi":-105,"v":0.1},{"phi":-15,"psi":-105,"v":0.15},{"phi":0,"psi":-105,"v":0.5},{"phi":15,"psi":-105,"v":0.3},{"phi":30,"psi":-105,"v":0.15},{"phi":45,"psi":-105,"v":0.6},{"phi":60,"psi":-105,"v":2.8},{"phi":75,"psi":-105,"v":3.2},{"phi":90,"psi":-105,"v":2.9},{"phi":105,"psi":-105,"v":5},{"phi":120,"psi":-105,"v":5},{"phi":135,"psi":-105,"v":5},{"phi":150,"psi":-105,"v":5},{"phi":165,"psi":-105,"v":2.55},
{"phi":-180,"psi":-120,"v":3.1},{"phi":-165,"psi":-120,"v":5},{"phi":-150,"psi":-120,"v":2.9},{"phi":-135,"psi":-120,"v":1.0},{"phi":-120,"psi":-120,"v":0.4},{"phi":-105,"psi":-120,"v":0.1},{"phi":-90,"psi":-120,"v":0.05},{"phi":-75,"psi":-120,"v":0.05},{"phi":-60,"psi":-120,"v":0.05},{"phi":-45,"psi":-120,"v":0.05},{"phi":-30,"psi":-120,"v":0.05},{"phi":-15,"psi":-120,"v":0.05},{"phi":0,"psi":-120,"v":0.05},{"phi":15,"psi":-120,"v":0.05},{"phi":30,"psi":-120,"v":0.08},{"phi":45,"psi":-120,"v":0.3},{"phi":60,"psi":-120,"v":1.2},{"phi":75,"psi":-120,"v":2.25},{"phi":90,"psi":-120,"v":3.9},{"phi":105,"psi":-120,"v":5},{"phi":120,"psi":-120,"v":5},{"phi":135,"psi":-120,"v":5},{"phi":150,"psi":-120,"v":5},{"phi":165,"psi":-120,"v":5},
{"phi":-180,"psi":-135,"v":3.4},{"phi":-165,"psi":-135,"v":5},{"phi":-150,"psi":-135,"v":2.9},{"phi":-135,"psi":-135,"v":1.45},{"phi":-120,"psi":-135,"v":0.35},{"phi":-105,"psi":-135,"v":0.08},{"phi":-90,"psi":-135,"v":0.05},{"phi":-75,"psi":-135,"v":0.05},{"phi":-60,"psi":-135,"v":0.05},{"phi":-45,"psi":-135,"v":0.05},{"phi":-30,"psi":-135,"v":0.05},{"phi":-15,"psi":-135,"v":0.05},{"phi":0,"psi":-135,"v":0.05},{"phi":15,"psi":-135,"v":0.05},{"phi":30,"psi":-135,"v":0.05},{"phi":45,"psi":-135,"v":0.1},{"phi":60,"psi":-135,"v":0.55},{"phi":75,"psi":-135,"v":1.2},{"phi":90,"psi":-135,"v":2.5},{"phi":105,"psi":-135,"v":3.6},{"phi":120,"psi":-135,"v":3.15},{"phi":135,"psi":-135,"v":2.4},{"phi":150,"psi":-135,"v":2.0},{"phi":165,"psi":-135,"v":3.6},
{"phi":-180,"psi":-150,"v":4.0},{"phi":-165,"psi":-150,"v":5},{"phi":-150,"psi":-150,"v":3.4},{"phi":-135,"psi":-150,"v":1.75},{"phi":-120,"psi":-150,"v":0.5},{"phi":-105,"psi":-150,"v":0.1},{"phi":-90,"psi":-150,"v":0.05},{"phi":-75,"psi":-150,"v":0.05},{"phi":-60,"psi":-150,"v":0.05},{"phi":-45,"psi":-150,"v":0.05},{"phi":-30,"psi":-150,"v":0.05},{"phi":-15,"psi":-150,"v":0.05},{"phi":0,"psi":-150,"v":0.05},{"phi":15,"psi":-150,"v":0.05},{"phi":30,"psi":-150,"v":0.05},{"phi":45,"psi":-150,"v":0.08},{"phi":60,"psi":-150,"v":0.2},{"phi":75,"psi":-150,"v":0.6},{"phi":90,"psi":-150,"v":1.7},{"phi":105,"psi":-150,"v":4.45},{"phi":120,"psi":-150,"v":3.75},{"phi":135,"psi":-150,"v":5},{"phi":150,"psi":-150,"v":2.8},{"phi":165,"psi":-150,"v":3.1},
{"phi":-180,"psi":-165,"v":5},{"phi":-165,"psi":-165,"v":5},{"phi":-150,"psi":-165,"v":5},{"phi":-135,"psi":-165,"v":1.75},{"phi":-120,"psi":-165,"v":0.55},{"phi":-105,"psi":-165,"v":0.2},{"phi":-90,"psi":-165,"v":0.05},{"phi":-75,"psi":-165,"v":0.05},{"phi":-60,"psi":-165,"v":0.05},{"phi":-45,"psi":-165,"v":0.05},{"phi":-30,"psi":-165,"v":0.05},{"phi":-15,"psi":-165,"v":0.05},{"phi":0,"psi":-165,"v":0.05},{"phi":15,"psi":-165,"v":0.05},{"phi":30,"psi":-165,"v":0.05},{"phi":45,"psi":-165,"v":0.05},{"phi":60,"psi":-165,"v":0.05},{"phi":75,"psi":-165,"v":0.05},{"phi":90,"psi":-165,"v":0.05},{"phi":105,"psi":-165,"v":0.05},{"phi":120,"psi":-165,"v":2.95},{"phi":135,"psi":-165,"v":1.9},{"phi":150,"psi":-165,"v":1.1},{"phi":165,"psi":-165,"v":2.5},
{"phi":-180,"psi":-180,"v":3.1},{"phi":-165,"psi":-180,"v":5},{"phi":-150,"psi":-180,"v":5},{"phi":-135,"psi":-180,"v":3.1},{"phi":-120,"psi":-180,"v":1.1},{"phi":-105,"psi":-180,"v":0.35},{"phi":-90,"psi":-180,"v":0.05},{"phi":-75,"psi":-180,"v":0.05},{"phi":-60,"psi":-180,"v":0.05},{"phi":-45,"psi":-180,"v":0.05},{"phi":-30,"psi":-180,"v":0.05},{"phi":-15,"psi":-180,"v":0.05},{"phi":0,"psi":-180,"v":0.05},{"phi":15,"psi":-180,"v":0.05},{"phi":30,"psi":-180,"v":0.05},{"phi":45,"psi":-180,"v":0.05},{"phi":60,"psi":-180,"v":0.05},{"phi":75,"psi":-180,"v":0.05},{"phi":90,"psi":-180,"v":0.05},{"phi":105,"psi":-180,"v":0.05},{"phi":120,"psi":-180,"v":2.5},{"phi":135,"psi":-180,"v":0.8},{"phi":150,"psi":-180,"v":1.0},{"phi":165,"psi":-180,"v":1.15}
]
},
"hconcat":[
{
 "title":"Umbrella Free Energies, -kT ln(z)",
 "width":842,"height":813,
 "layer":[
  {"data":{"name":"fe"},
   "mark":{"type":"rect","binSpacing":0},
   "encoding":{
    "x":{"field":"phi","type":"quantitative","bin":{"binned":true,"step":15},"scale":{"domain":[-180,180],"nice":false,"zero":false},"axis":{"values":[-150,-100,-50,0,50,100,150],"format":"d","title":"Phi Dihedral"}},
    "y":{"field":"psi","type":"quantitative","bin":{"binned":true,"step":15},"scale":{"domain":[-180,180],"nice":false,"zero":false},"axis":{"values":[-150,-100,-50,0,50,100,150],"format":"d","title":"Psi Dihedral"}},
    "color":{"field":"v","type":"quantitative","scale":{"domain":[0,2.376,2.7,7.344,7.56,8.1,13.824,14.04,14.256,19.224,19.656,21.6],"range":["#000080","#0000ff","#0000ff","#00dbff","#00e6f7","#14ffe2","#eeff08","#f7f500","#ffec00","#ff1300","#e80000","#800000"],"interpolate":"rgb","nice":false,"zero":false},
     "legend":{"type":"gradient","title":"Free Energy (kcal/mol)","values":[0,2.5,5,7.5,10,12.5,15,17.5,20],"format":".1f","encode":{"title":{"update":{"angle":{"value":270},"baseline":{"value":"top"}}}}}}
   }},
  {"data":{"name":"fe"},
   "mark":{"type":"rect","binSpacing":0},
   "encoding":{
    "x":{"field":"phi","type":"quantitative","bin":{"binned":true,"step":15},"axis":null},
    "y":{"field":"psi","type":"quantitative","bin":{"binned":true,"step":15},"axis":null},
    "color":{"field":"v","type":"quantitative","legend":{"type":"gradient","title":"Free Energy (kcal/mol)","values":[0,2.5,5,7.5,10,12.5,15,17.5,20],"format":".1f","encode":{"title":{"update":{"angle":{"value":270},"baseline":{"value":"top"}}}}}}
   }},
  {"data":{"name":"dots"},
   "mark":{"type":"point","filled":true,"color":"white","opacity":1,"size":1100,"strokeWidth":0},
   "encoding":{
    "x":{"field":"phi","type":"quantitative","axis":{"orient":"top","labels":false,"title":null,"values":[-150,-100,-50,0,50,100,150]}},
    "y":{"field":"psi","type":"quantitative","axis":{"orient":"right","labels":false,"title":null,"values":[-150,-100,-50,0,50,100,150]}}
   }}
 ],
 "resolve":{"axis":{"x":"independent","y":"independent"}}
},
{
 "title":"Umbrella Importance: Stochastic Matrix",
 "width":842,"height":813,
 "layer":[
  {"data":{"name":"imp"},
   "mark":{"type":"rect","binSpacing":0},
   "encoding":{
    "x":{"field":"phi","type":"quantitative","bin":{"binned":true,"step":15},"scale":{"domain":[-180,180],"nice":false,"zero":false},"axis":{"values":[-150,-100,-50,0,50,100,150],"format":"d","title":"Phi Dihedral"}},
    "y":{"field":"psi","type":"quantitative","bin":{"binned":true,"step":15},"scale":{"domain":[-180,180],"nice":false,"zero":false},"axis":{"values":[-150,-100,-50,0,50,100,150],"format":"d","title":null}},
    "color":{"field":"v","type":"quantitative","scale":{"domain":[0,0.625,1.25,1.875,2.5,3.125,3.75,4.375,5],"range":["#f7fbff","#deebf7","#c6dbef","#9ecae1","#6baed6","#4292c6","#2171b5","#08519c","#08306b"],"interpolate":"rgb","nice":false,"zero":false},
     "legend":{"type":"gradient","title":"No. Recommended Samples, Relative to Uniform","values":[0,0.5,1,1.5,2,2.5,3,3.5,4,4.5,5],"format":".1f","encode":{"title":{"update":{"angle":{"value":270},"baseline":{"value":"top"}}}}}}
   }},
  {"data":{"name":"imp"},
   "mark":{"type":"rect","binSpacing":0},
   "encoding":{
    "x":{"field":"phi","type":"quantitative","bin":{"binned":true,"step":15},"axis":{"orient":"top","labels":false,"title":null,"values":[-150,-100,-50,0,50,100,150]}},
    "y":{"field":"psi","type":"quantitative","bin":{"binned":true,"step":15},"axis":{"orient":"right","labels":false,"title":null,"values":[-150,-100,-50,0,50,100,150]}},
    "color":{"field":"v","type":"quantitative","legend":{"type":"gradient","title":"No. Recommended Samples, Relative to Uniform","values":[0,0.5,1,1.5,2,2.5,3,3.5,4,4.5,5],"format":".1f","encode":{"title":{"update":{"angle":{"value":270},"baseline":{"value":"top"}}}}}}
   }}
 ],
 "resolve":{"axis":{"x":"independent","y":"independent"}}
}
]
}
